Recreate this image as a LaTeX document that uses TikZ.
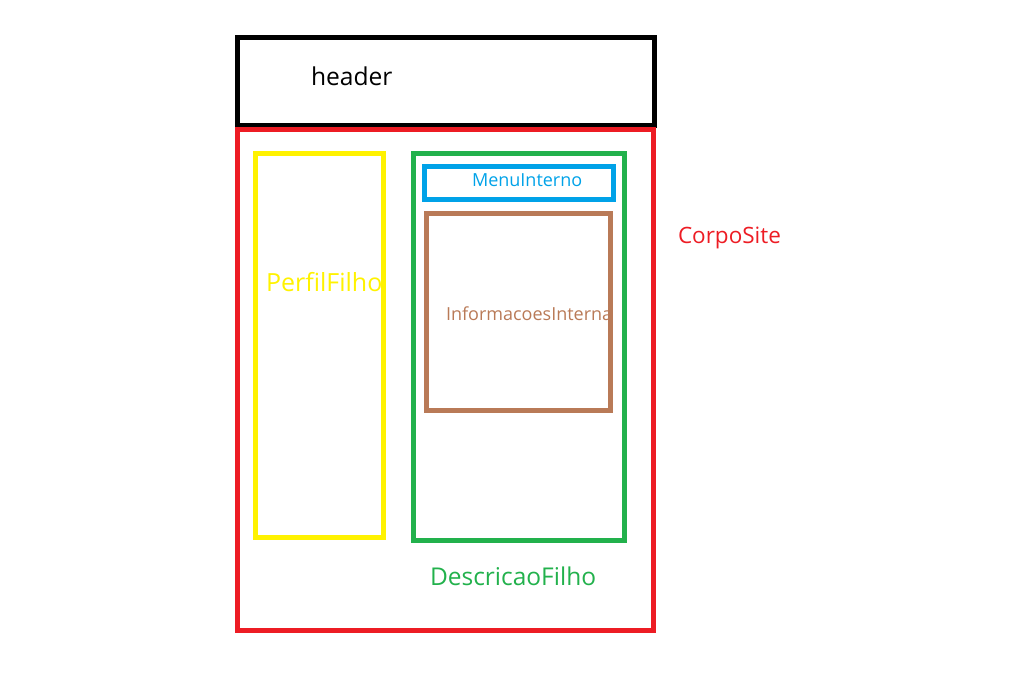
\documentclass[tikz,border=0pt]{standalone}
\usepackage{fontspec}
\setmainfont{Open Sans}
\usetikzlibrary{positioning}

\definecolor{paintred}{RGB}{237,28,36}
\definecolor{paintyellow}{RGB}{255,242,0}
\definecolor{paintgreen}{RGB}{34,177,76}
\definecolor{paintblue}{RGB}{0,162,232}
\definecolor{paintbrown}{RGB}{185,122,87}

\tikzset{
  box/.style={line width=5pt},
  lbl/.style={anchor=base west,inner sep=0pt,outer sep=0pt}
}

\begin{document}
\begin{tikzpicture}[x=1pt,y=-1pt]
\useasboundingbox (0,0) rectangle (1028,672);

% labels first, the boxes are drawn over them
\node[lbl,text=black,font=\fontsize{24.6}{29}\selectfont] (header) at (311,85) {header};
\node[lbl,text=paintred,font=\fontsize{22.5}{27}\selectfont] (corposite) at (678,243) {CorpoSite};
\node[lbl,text=paintyellow,font=\fontsize{25}{30}\selectfont] (perfil) at (266,291) {PerfilFilho};
\node[lbl,text=paintblue,font=\fontsize{18}{22}\selectfont] (menu) at (472,186) {MenuInterno};
\node[lbl,text=paintbrown,font=\fontsize{18}{22}\selectfont] (info) at (446,320) {InformacoesInterna};
\node[lbl,text=paintgreen,font=\fontsize{24.5}{29}\selectfont] (descricao) at (430,585) {DescricaoFilho};

% boxes
\draw[box,draw=black] (237.5,37) rectangle (654.5,125.5);
\draw[box,draw=paintred] (237.5,129.5) rectangle (653.5,630);
\draw[box,draw=paintyellow] (255,153.5) rectangle (383.5,537);
\draw[box,draw=paintgreen] (413,153.5) rectangle (624.5,540.5);
\draw[box,draw=paintblue] (424,166.5) rectangle (613.5,199);
\draw[box,draw=paintbrown] (426.5,213) rectangle (610,410);
\end{tikzpicture}
\end{document}
